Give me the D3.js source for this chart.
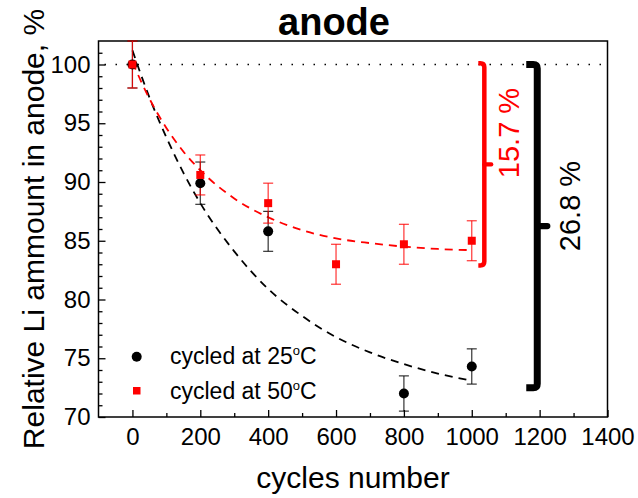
<!DOCTYPE html>
<html lang="en">
<head>
    <meta charset="UTF-8">
    <title>anode</title>
    <script src="https://d3js.org/d3.v7.min.js"></script>
    <style>
        body { margin: 0; background: #fff; }
        svg { display: block; font-family: "Liberation Sans", Arial, sans-serif; }
    </style>
</head>
<body>
    <svg id="chart" width="638" height="498"></svg>

    <script>
        // measured points (cycles, % Li left, error)
        const cycles = [0, 200, 400, 800, 1000];
        const li25 = [100, 89.9, 85.8, 72.0, 74.3];
        const err25 = [2.0, 1.8, 1.7, 1.5, 1.5];

        const cycles50 = [0, 200, 400, 600, 800, 1000];
        const li50 = [100, 90.6, 88.2, 83.0, 84.7, 85.0];
        const err50 = [2.0, 1.7, 1.7, 1.7, 1.7, 1.7];

        // dashed fit curves
        const fitX = [0, 50, 100, 150, 200, 300, 400, 500, 600, 700, 800, 900, 1000];
        const fit25 = [101.2, 97.2, 93.8, 90.8, 88.2, 84.1, 80.9, 78.6, 76.8, 75.5, 74.5, 73.7, 73.1];
        const fit50 = [100.2, 97.1, 94.6, 92.6, 91.0, 88.6, 87.0, 85.9, 85.2, 84.8, 84.5, 84.3, 84.2];

        const xTicks = [0, 200, 400, 600, 800, 1000, 1200, 1400];
        const xMinor = [100, 300, 500, 700, 900, 1100, 1300];
        const yTicks = [70, 75, 80, 85, 90, 95, 100];
        const yMinor = d3.range(71, 102).filter(v => v % 5 !== 0);

        // loss brackets: [top, bottom] in %, at a cycle position, label
        const bracket50 = { at: 1037, top: 100.1, bottom: 82.9, label: "15.7 %" };
        const bracket25 = { at: 1193, top: 100.0, bottom: 72.5, label: "26.8 %" };

        const svg = d3.select("#chart");
        const pLeft = 98.5, pRight = 607.5, pTop = 41, pBottom = 417;

        const x = d3.scaleLinear().domain([-100, 1400]).range([pLeft, pRight]);
        const y = d3.scaleLinear().domain([70, 102]).range([pBottom, pTop]);

        // title
        svg.append("text")
            .attr("x", 334).attr("y", 35)
            .attr("text-anchor", "middle")
            .attr("font-size", 38).attr("font-weight", "bold")
            .text("anode");

        // axes with inward ticks
        const gx = svg.append("g").attr("transform", `translate(0,${pBottom})`);
        gx.call(d3.axisBottom(x).tickValues(xTicks).tickFormat(d3.format("d"))
            .tickSizeInner(-7).tickSizeOuter(0).tickPadding(11));
        gx.append("g").call(d3.axisBottom(x).tickValues(xMinor).tickSize(-4).tickFormat(""));

        const gy = svg.append("g").attr("transform", `translate(${pLeft},0)`);
        gy.call(d3.axisLeft(y).tickValues(yTicks).tickSizeInner(-7).tickSizeOuter(0).tickPadding(8));
        gy.append("g").call(d3.axisLeft(y).tickValues(yMinor).tickSize(-4).tickFormat(""));

        svg.selectAll(".domain").remove();
        svg.selectAll(".tick line").attr("stroke", "#000").attr("stroke-width", 1.3);
        svg.selectAll(".tick text").attr("font-size", 24).attr("fill", "#000")
            .attr("font-family", "Liberation Sans, Arial, sans-serif");

        svg.append("rect")
            .attr("x", pLeft).attr("y", pTop)
            .attr("width", pRight - pLeft).attr("height", pBottom - pTop)
            .attr("fill", "none").attr("stroke", "#000").attr("stroke-width", 1.5);

        // axis titles
        svg.append("text")
            .attr("transform", `translate(44,${(pTop + pBottom) / 2}) rotate(-90)`)
            .attr("text-anchor", "middle")
            .attr("font-size", 30)
            .text("Relative Li ammount in anode, %");

        svg.append("text")
            .attr("x", (pLeft + pRight) / 2).attr("y", 488)
            .attr("text-anchor", "middle")
            .attr("font-size", 30)
            .text("cycles number");

        // dotted 100% reference
        svg.append("line")
            .attr("x1", pLeft + 6).attr("x2", pRight)
            .attr("y1", y(100)).attr("y2", y(100))
            .attr("stroke", "#000").attr("stroke-width", 1.5)
            .attr("stroke-dasharray", "1.5,9.5");

        // fit curves
        const line = d3.line().x(d => x(d[0])).y(d => y(d[1])).curve(d3.curveMonotoneX);
        svg.append("path")
            .datum(fitX.map((c, i) => [c, fit25[i]]))
            .attr("d", line)
            .attr("fill", "none").attr("stroke", "#000")
            .attr("stroke-width", 1.8).attr("stroke-dasharray", "8,6");
        svg.append("path")
            .datum(fitX.map((c, i) => [c, fit50[i]]))
            .attr("d", line)
            .attr("fill", "none").attr("stroke", "#ff0000")
            .attr("stroke-width", 1.8).attr("stroke-dasharray", "8,6");

        function errorBars(xs, ys, es, color) {
            const g = svg.append("g").attr("stroke", color).attr("stroke-width", 1.2).attr("stroke-opacity", 0.8);
            xs.forEach((c, i) => {
                const cx = x(c);
                const y1 = y(Math.min(ys[i] + es[i], 102)), y2 = y(ys[i] - es[i]);
                g.append("line").attr("x1", cx).attr("x2", cx).attr("y1", y1).attr("y2", y2);
                g.append("line").attr("x1", cx - 5).attr("x2", cx + 5).attr("y1", y1).attr("y2", y1);
                g.append("line").attr("x1", cx - 5).attr("x2", cx + 5).attr("y1", y2).attr("y2", y2);
            });
        }
        errorBars(cycles, li25, err25, "#000");
        errorBars(cycles50, li50, err50, "#ff0000");

        svg.selectAll("circle.p25")
            .data(cycles)
            .enter().append("circle")
            .attr("class", "p25")
            .attr("cx", d => x(d))
            .attr("cy", (d, i) => y(li25[i]))
            .attr("r", 5)
            .attr("fill", "#000");

        svg.selectAll("rect.p50")
            .data(cycles50)
            .enter().append("rect")
            .attr("class", "p50")
            .attr("x", d => x(d) - 4)
            .attr("y", (d, i) => y(li50[i]) - 4)
            .attr("width", 8).attr("height", 8)
            .attr("fill", "#ff0000");

        // brackets
        function bracket(b, color, width, hook, nub) {
            const bx = x(b.at), y1 = y(b.top), y2 = y(b.bottom), r = 4;
            const p = d3.path();
            p.moveTo(bx - hook, y1);
            p.lineTo(bx - r, y1);
            p.quadraticCurveTo(bx, y1, bx, y1 + r);
            p.lineTo(bx, y2 - r);
            p.quadraticCurveTo(bx, y2, bx - r, y2);
            p.lineTo(bx - hook, y2);
            svg.append("path").attr("d", p.toString())
                .attr("fill", "none").attr("stroke", color).attr("stroke-width", width);
            const ym = (y1 + y2) / 2;
            svg.append("line")
                .attr("x1", bx).attr("x2", bx + nub)
                .attr("y1", ym).attr("y2", ym)
                .attr("stroke", color).attr("stroke-width", width * 0.9)
                .attr("stroke-linecap", "round");
        }
        bracket(bracket50, "#ff0000", 4.5, 6, 7);
        bracket(bracket25, "#000", 7, 11, 10);

        svg.append("text")
            .attr("transform", "translate(519,133) rotate(-90)")
            .attr("text-anchor", "middle")
            .attr("font-size", 29).attr("fill", "#ff0000")
            .text(bracket50.label);
        svg.append("text")
            .attr("transform", "translate(580,206) rotate(-90)")
            .attr("text-anchor", "middle")
            .attr("font-size", 29).attr("fill", "#000")
            .text(bracket25.label);

        // legend
        const legend = svg.append("g");
        legend.append("circle").attr("cx", 136.7).attr("cy", 356.7).attr("r", 5).attr("fill", "#000");
        legend.append("rect").attr("x", 133).attr("y", 387).attr("width", 7.5).attr("height", 7.5).attr("fill", "#ff0000");
        [["25", 363.5], ["50", 398.5]].forEach(([t, ty]) => {
            const txt = legend.append("text").attr("x", 170).attr("y", ty).attr("font-size", 23);
            txt.append("tspan").text(`cycled at ${t}`);
            txt.append("tspan").attr("font-size", 13).attr("dy", -9).text("o");
            txt.append("tspan").attr("dy", 9).text("C");
        });
    </script>
</body>
</html>
